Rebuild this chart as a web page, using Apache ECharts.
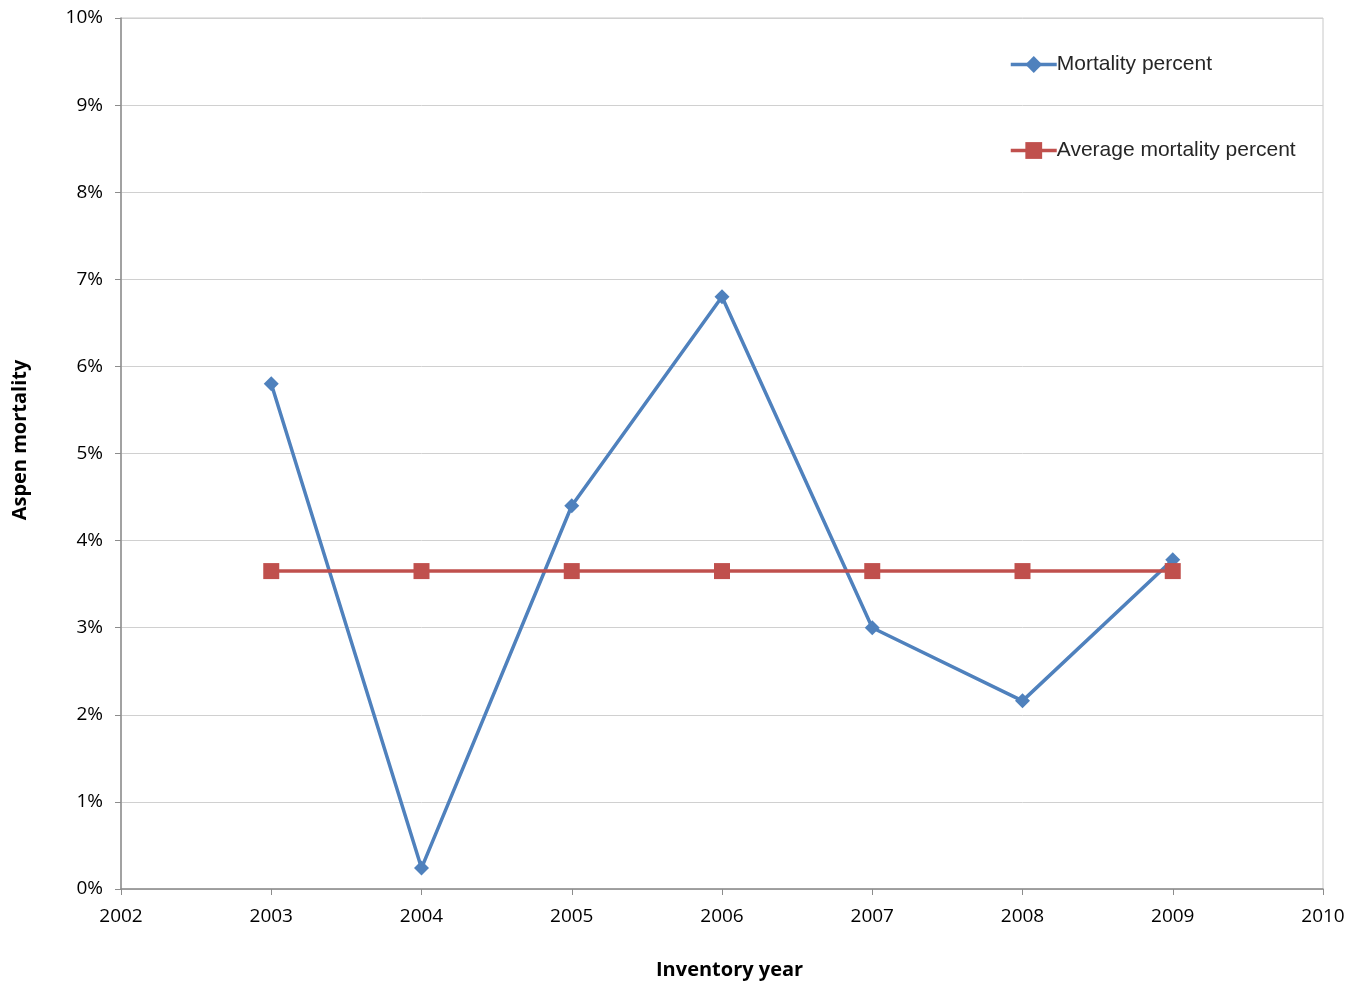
<!DOCTYPE html>
<html>
<head>
<meta charset="utf-8">
<script src="https://cdn.jsdelivr.net/npm/echarts@6/dist/echarts.min.js"></script>
<style>
  html, body { margin: 0; padding: 0; background: #fff; }
  #chart { width: 1363px; height: 984px; }
</style>
</head>
<body>
<div id="chart"></div>
<script>
// Inventory years and aspen mortality (fraction of trees)
const years = [2003, 2004, 2005, 2006, 2007, 2008, 2009];
const mortality = [0.0580, 0.0024, 0.0440, 0.0680, 0.0300, 0.0216, 0.0378];
const averageMortality = [0.0365, 0.0365, 0.0365, 0.0365, 0.0365, 0.0365, 0.0365];
const seriesNames = ['Mortality percent', 'Average mortality percent'];
const xTitle = 'Inventory year';
const yTitle = 'Aspen mortality';

const tickFont = 'Open Sans, Liberation Sans, sans-serif';
const blue = '#4F81BD';
const red = '#C0504D';

const chart = echarts.init(document.getElementById('chart'), null, { renderer: 'canvas' });
chart.setOption({
  animation: false,
  backgroundColor: '#fff',
  grid: { left: 121, right: 40, top: 18, bottom: 95, show: true, borderColor: '#c8c8c8', borderWidth: 1 },
  legend: {
    left: 1004, top: 49,
    orient: 'vertical',
    itemGap: 65,
    itemWidth: 46, itemHeight: 21,
    textStyle: { fontFamily: 'Liberation Sans, Arial, sans-serif', fontSize: 21, color: '#262626', padding: [0, 0, 0, -5] },
    data: [
      { name: seriesNames[0], lineStyle: { width: 3.5, color: blue } },
      { name: seriesNames[1], lineStyle: { width: 3.5, color: red } }
    ]
  },
  graphic: [
    {
      type: 'text', left: 656, top: 960,
      style: { text: xTitle, font: 'bold 20px ' + tickFont, fill: '#000' }
    },
    {
      type: 'text', x: 10, y: 440, rotation: Math.PI / 2,
      style: { text: yTitle, font: 'bold 20px ' + tickFont, fill: '#000', align: 'center', verticalAlign: 'top' }
    }
  ],
  xAxis: {
    type: 'value',
    min: 2002, max: 2010, interval: 1,
    axisLine: { lineStyle: { color: '#8c8c8c', width: 1.5 } },
    axisTick: { show: true, length: 6, lineStyle: { color: '#8c8c8c' } },
    axisLabel: { fontFamily: tickFont, fontSize: 19, color: '#000', margin: 18, formatter: v => String(v) },
    splitLine: { show: false }
  },
  yAxis: {
    type: 'value',
    min: 0, max: 0.1, interval: 0.01,
    axisLine: { show: true, lineStyle: { color: '#8c8c8c', width: 1.5 } },
    axisTick: { show: true, length: 6, lineStyle: { color: '#8c8c8c' } },
    axisLabel: {
      fontFamily: tickFont, fontSize: 19, color: '#000', margin: 18,
      formatter: v => Math.round(v * 100) + '%'
    },
    splitLine: { show: true, lineStyle: { color: '#d0d0d0', width: 1 } }
  },
  series: [
    {
      name: seriesNames[0],
      type: 'line',
      data: years.map((y, i) => [y, mortality[i]]),
      symbol: 'diamond',
      symbolSize: 15,
      lineStyle: { color: blue, width: 3.5 },
      itemStyle: { color: blue },
      z: 3
    },
    {
      name: seriesNames[1],
      type: 'line',
      data: years.map((y, i) => [y, averageMortality[i]]),
      symbol: 'rect',
      symbolSize: 16,
      lineStyle: { color: red, width: 3.5 },
      itemStyle: { color: red },
      z: 4
    }
  ]
});
</script>
</body>
</html>
